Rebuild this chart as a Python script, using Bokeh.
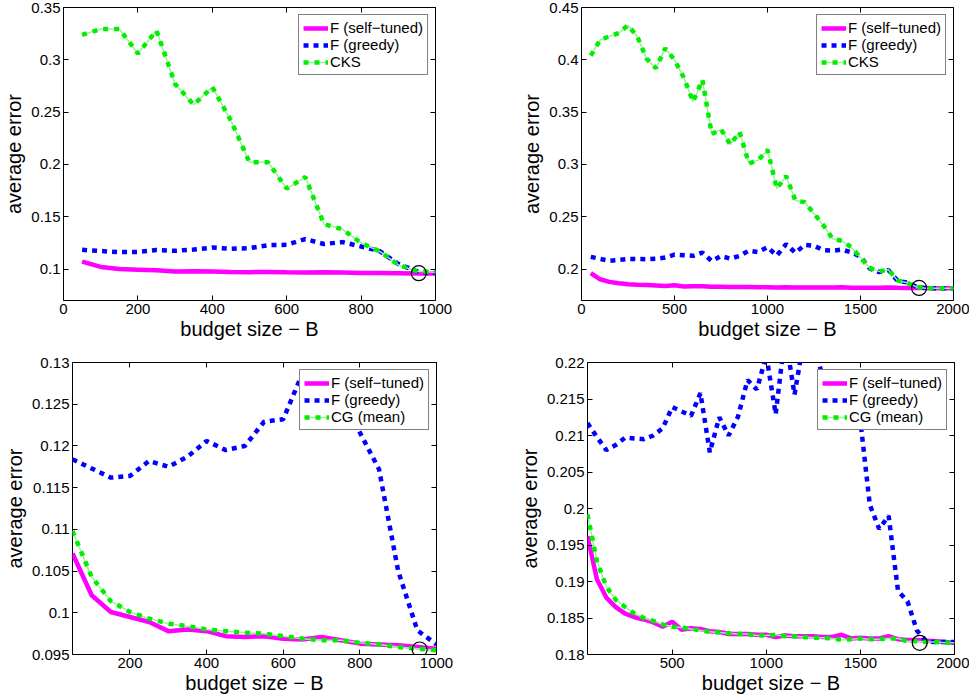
from bokeh.plotting import figure
from bokeh.layouts import column, row
from bokeh.models import Range1d, FixedTicker, LinearAxis
from bokeh.embed import file_html
from bokeh.resources import INLINE

# ---------------- data ----------------
budget_1k = [50, 100, 150, 200, 250, 300, 350, 400, 450, 500,
             550, 600, 650, 700, 750, 800, 850, 900, 950, 1000]
self_tuned_1k = [0.1071, 0.1021, 0.1001, 0.0995, 0.0989, 0.0978, 0.0980, 0.0978, 0.0972, 0.0971,
                 0.0972, 0.0969, 0.0968, 0.0971, 0.0967, 0.0963, 0.0962, 0.0961, 0.0959, 0.0957]
greedy_1k = [0.1184, 0.1173, 0.1162, 0.1164, 0.1182, 0.1175, 0.1187, 0.1206, 0.1195, 0.1200,
             0.1229, 0.1232, 0.1287, 0.1240, 0.1258, 0.1216, 0.1172, 0.1050, 0.0979, 0.0962]
cks_1k = [0.3238, 0.3295, 0.3295, 0.3060, 0.3280, 0.2770, 0.2570, 0.2740, 0.2420, 0.2020,
          0.2020, 0.1770, 0.1880, 0.1430, 0.1380, 0.1250, 0.1170, 0.1040, 0.0980, 0.0970]
cg_mean_1k = [0.1098, 0.1043, 0.1014, 0.1001, 0.0993, 0.0987, 0.0984, 0.0980, 0.0978, 0.0976,
              0.0975, 0.0972, 0.0969, 0.0967, 0.0967, 0.0964, 0.0962, 0.0959, 0.0957, 0.0955]

budget_2k = [50, 100, 150, 200, 250, 300, 350, 400, 450, 500,
             550, 600, 650, 700, 750, 800, 850, 900, 950, 1000,
             1050, 1100, 1150, 1200, 1250, 1300, 1350, 1400, 1450, 1500,
             1550, 1600, 1650, 1700, 1750, 1800, 1850, 1900, 1950, 2000]
self_tuned_2k = [0.1962, 0.1903, 0.1878, 0.1865, 0.1856, 0.1851, 0.1848, 0.1844, 0.1838, 0.1845,
                 0.1834, 0.1836, 0.1835, 0.1832, 0.1831, 0.1828, 0.1828, 0.1828, 0.1827, 0.1827,
                 0.1824, 0.1826, 0.1825, 0.1825, 0.1825, 0.1824, 0.1824, 0.1827, 0.1822, 0.1823,
                 0.1822, 0.1822, 0.1825, 0.1821, 0.1820, 0.1820, 0.1819, 0.1818, 0.1817, 0.1816]
greedy_2k = [0.2117, 0.2098, 0.2080, 0.2087, 0.2097, 0.2096, 0.2095, 0.2100, 0.2110, 0.2139,
             0.2133, 0.2127, 0.2158, 0.2077, 0.2125, 0.2100, 0.2126, 0.2176, 0.2163, 0.2210,
             0.2129, 0.2238, 0.2156, 0.2232, 0.2224, 0.2181, 0.2176, 0.2186, 0.2160, 0.2120,
             0.2005, 0.1972, 0.1990, 0.1887, 0.1873, 0.1833, 0.1818, 0.1817, 0.1817, 0.1817]
cks_2k = [0.4040, 0.4190, 0.4225, 0.4255, 0.4330, 0.4222, 0.4010, 0.3920, 0.4110, 0.4000,
          0.3830, 0.3600, 0.3810, 0.3290, 0.3336, 0.3190, 0.3310, 0.3010, 0.3040, 0.3140,
          0.2770, 0.2890, 0.2655, 0.2640, 0.2530, 0.2420, 0.2290, 0.2270, 0.2210, 0.2110,
          0.2010, 0.1978, 0.1994, 0.1890, 0.1870, 0.1830, 0.1818, 0.1817, 0.1817, 0.1817]
cg_mean_2k = [0.1992, 0.1928, 0.1893, 0.1875, 0.1865, 0.1856, 0.1850, 0.1846, 0.1841, 0.1838,
              0.1837, 0.1835, 0.1833, 0.1831, 0.1830, 0.1829, 0.1828, 0.1828, 0.1826, 0.1826,
              0.1827, 0.1825, 0.1825, 0.1824, 0.1823, 0.1823, 0.1822, 0.1820, 0.1821, 0.1822,
              0.1821, 0.1821, 0.1822, 0.1822, 0.1818, 0.1818, 0.1817, 0.1817, 0.1816, 0.1816]

# marked points (circles)
mark_x = [955, 1815, 956, 1815]
mark_y = [0.0961, 0.1820, 0.0956, 0.1816]

# ticks
yticks_a = [0.1, 0.15, 0.2, 0.25, 0.3, 0.35]
ylabels_a = ["0.1", "0.15", "0.2", "0.25", "0.3", "0.35"]
yticks_b = [0.2, 0.25, 0.3, 0.35, 0.4, 0.45]
ylabels_b = ["0.2", "0.25", "0.3", "0.35", "0.4", "0.45"]
yticks_c = [0.095, 0.1, 0.105, 0.11, 0.115, 0.12, 0.125, 0.13]
ylabels_c = ["0.095", "0.1", "0.105", "0.11", "0.115", "0.12", "0.125", "0.13"]
yticks_d = [0.18, 0.185, 0.19, 0.195, 0.2, 0.205, 0.21, 0.215, 0.22]
ylabels_d = ["0.18", "0.185", "0.19", "0.195", "0.2", "0.205", "0.21", "0.215", "0.22"]
xticks_a = [0, 200, 400, 600, 800, 1000]
xticks_b = [0, 500, 1000, 1500, 2000]
xticks_c = [200, 400, 600, 800, 1000]
xticks_d = [500, 1000, 1500, 2000]

labels_top = ["F (self\u2212tuned)", "F (greedy)", "CKS"]
labels_bottom = ["F (self\u2212tuned)", "F (greedy)", "CG (mean)"]
x_title = "budget size \u2212 B"
y_title = "average error"

FONT = "Liberation Sans"
MAGENTA = "#ff00ff"
BLUE = "#0000ff"
GREEN = "#00ee00"
LIGHTGREEN = "#9cf09c"


def make_panel(width, height, borders, xr, yr, xt, yt, ylab, xs, s1, s2, s3, labels, mx, my):
    p = figure(width=width, height=height, output_backend="svg", toolbar_location=None,
               x_range=Range1d(*xr), y_range=Range1d(*yr),
               min_border_left=borders[0], min_border_right=borders[1],
               min_border_top=borders[2], min_border_bottom=borders[3])
    p.background_fill_color = "white"
    p.border_fill_color = "white"
    p.outline_line_color = "black"
    p.outline_line_width = 1
    p.xgrid.visible = False
    p.ygrid.visible = False

    p.line(xs, s1, line_color=MAGENTA, line_width=4.5, legend_label=labels[0])
    p.line(xs, s2, line_color=BLUE, line_width=4.5, line_dash="5 5", line_cap="butt",
           legend_label=labels[1])
    p.line(xs, s3, line_color=LIGHTGREEN, line_width=1.5, legend_label=labels[2])
    p.line(xs, s3, line_color=GREEN, line_width=4.5, line_dash="5 6", line_cap="butt",
           legend_label=labels[2])
    p.scatter(mx, my, marker="circle", size=15, fill_color=None, line_color="black",
              line_width=1.2)

    # axes
    p.xaxis.ticker = FixedTicker(ticks=xt)
    p.yaxis.ticker = FixedTicker(ticks=yt)
    p.yaxis.major_label_overrides = dict(zip(yt, ylab))
    for ax in (p.xaxis[0], p.yaxis[0]):
        ax.axis_line_color = None
        ax.major_tick_in = 5
        ax.major_tick_out = 0
        ax.major_tick_line_color = "black"
        ax.minor_tick_line_color = None
        ax.major_label_text_font = FONT
        ax.major_label_text_font_size = "15px"
        ax.major_label_text_color = "black"
        ax.major_label_standoff = 3
        ax.axis_label_text_font = FONT
        ax.axis_label_text_font_size = "20px"
        ax.axis_label_text_font_style = "normal"
        ax.axis_label_text_color = "black"
    p.xaxis.axis_label = x_title
    p.xaxis.axis_label_standoff = 1
    p.yaxis.axis_label = y_title
    p.yaxis.axis_label_standoff = 3

    for loc, t in (("above", xt), ("right", yt)):
        ax = LinearAxis(ticker=FixedTicker(ticks=t))
        ax.axis_line_color = None
        ax.major_tick_in = 5
        ax.major_tick_out = 0
        ax.minor_tick_line_color = None
        ax.major_label_text_font_size = "0px"
        ax.major_label_standoff = 0
        ax.major_label_text_alpha = 0
        p.add_layout(ax, loc)

    lg = p.legend[0]
    lg.location = "top_right"
    lg.margin = 7
    lg.padding = 4
    lg.spacing = 0
    lg.glyph_width = 25
    lg.glyph_height = 16
    lg.label_height = 16
    lg.label_standoff = 2
    lg.label_text_font = FONT
    lg.label_text_font_size = "15px"
    lg.label_text_color = "black"
    lg.border_line_color = "black"
    lg.border_line_width = 1
    lg.background_fill_alpha = 1
    return p


p1 = make_panel(455, 344, (63, 20, 7, 44), (0, 1000), (0.07, 0.35), xticks_a, yticks_a, ylabels_a,
                budget_1k, self_tuned_1k, greedy_1k, cks_1k, labels_top, mark_x[0:1], mark_y[0:1])
p2 = make_panel(514, 344, (126, 16, 7, 44), (0, 2000), (0.17, 0.45), xticks_b, yticks_b, ylabels_b,
                budget_2k, self_tuned_2k, greedy_2k, cks_2k, labels_top, mark_x[1:2], mark_y[1:2])
p3 = make_panel(455, 354, (68, 19, 18, 44), (50, 1000), (0.095, 0.13), xticks_c, yticks_c, ylabels_c,
                budget_1k, self_tuned_1k, greedy_1k, cg_mean_1k, labels_bottom, mark_x[2:3], mark_y[2:3])
p4 = make_panel(514, 354, (132, 15, 18, 44), (50, 2000), (0.18, 0.22), xticks_d, yticks_d, ylabels_d,
                budget_2k, self_tuned_2k, greedy_2k, cg_mean_2k, labels_bottom, mark_x[3:4], mark_y[3:4])

layout = column(row(p1, p2), row(p3, p4))
open("out.html", "w").write(file_html(layout, INLINE))
